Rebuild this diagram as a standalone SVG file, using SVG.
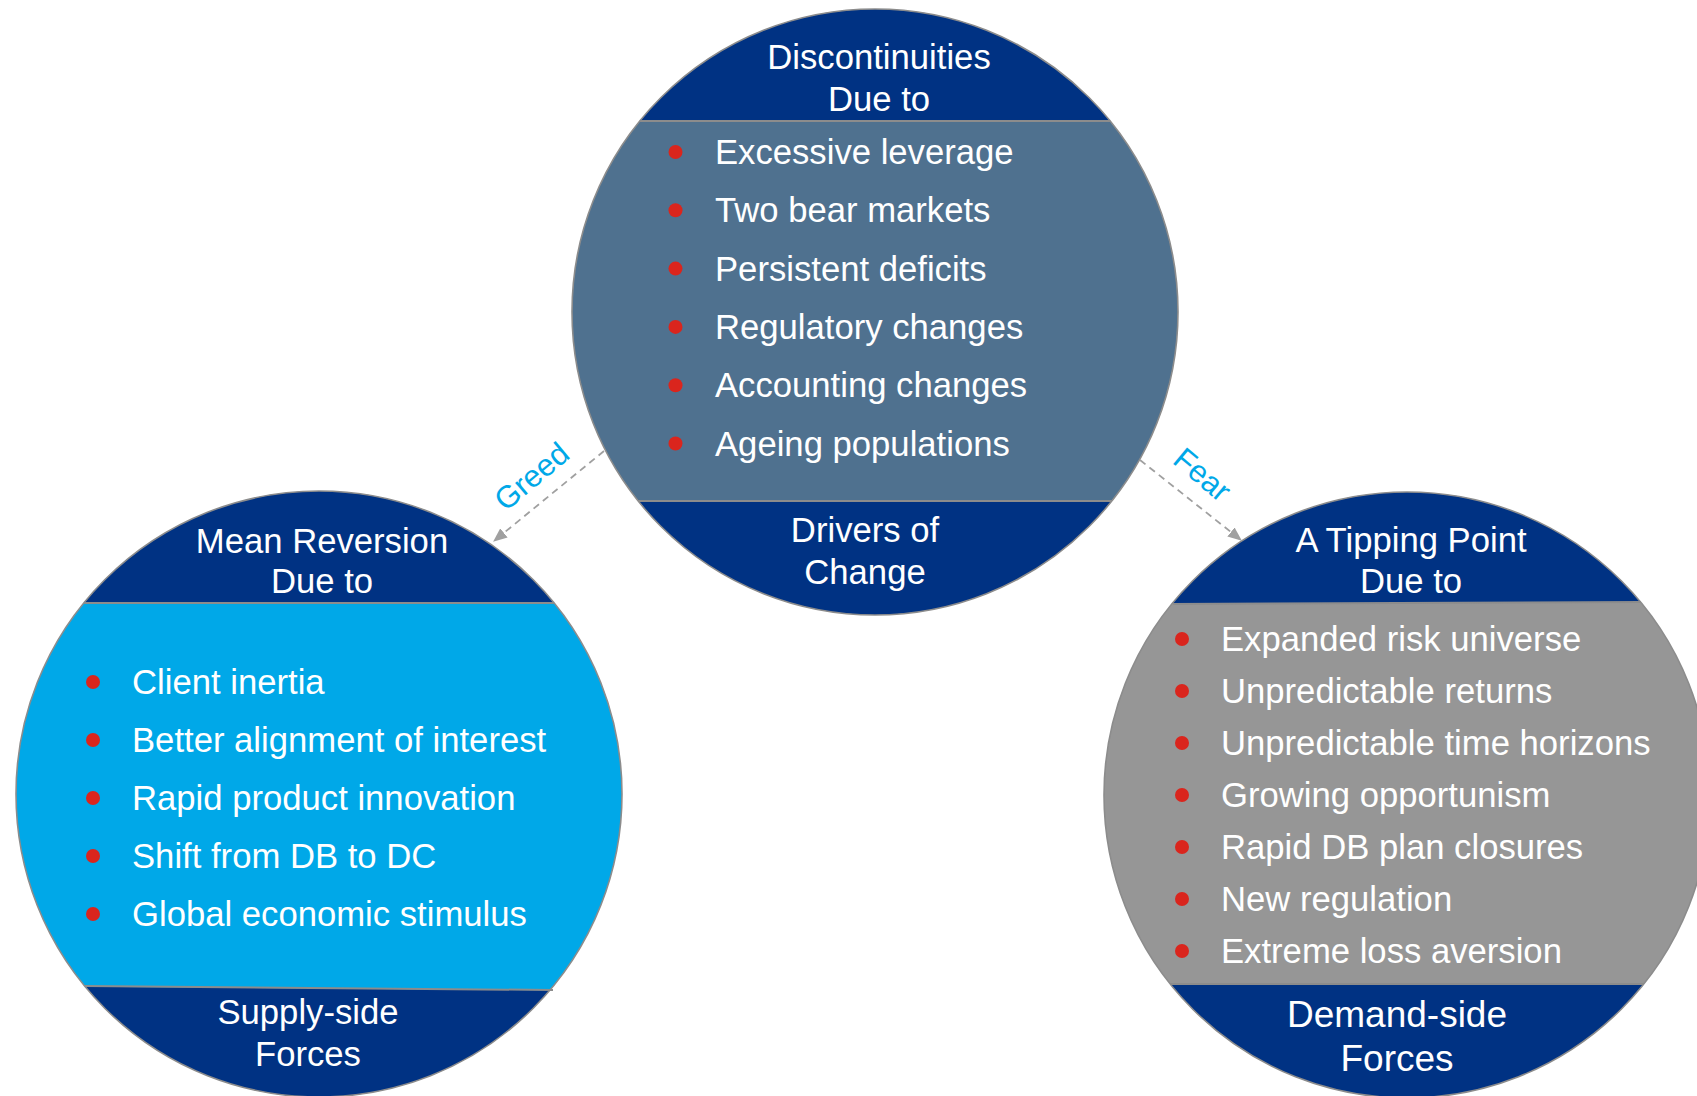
<svg xmlns="http://www.w3.org/2000/svg" width="1697" height="1096" viewBox="0 0 1697 1096">
<style>
.navy{fill:#003283}
.slate{fill:#4F718F}
.sky{fill:#00A8E8}
.grey{fill:#969696}
.ring{fill:none;stroke:#8C8C8C;stroke-width:1.6}
.div{stroke:#8C8C8C;stroke-width:2}
.h{font-family:"Liberation Sans",Arial,sans-serif;font-size:34.67px;fill:#fff;text-anchor:middle}
.hb{font-family:"Liberation Sans",Arial,sans-serif;font-size:37px;fill:#fff;text-anchor:middle}
.i{font-family:"Liberation Sans",Arial,sans-serif;font-size:34.67px;fill:#fff}
.b{fill:#DA251D}
.lbl{font-family:"Liberation Sans",Arial,sans-serif;font-size:31px;fill:#00A8E8;text-anchor:middle}
.con{fill:none;stroke:#A0A0A0;stroke-width:1.8;stroke-dasharray:7 5}
</style>
<defs>
<clipPath id="cTop"><circle cx="875" cy="312" r="303"/></clipPath>
<clipPath id="cLeft"><circle cx="319" cy="794" r="303"/></clipPath>
<clipPath id="cRight"><circle cx="1407" cy="795" r="303"/></clipPath>
<marker id="ah" viewBox="0 0 12 10" refX="11" refY="5" markerWidth="14" markerHeight="12" markerUnits="userSpaceOnUse" orient="auto">
<path d="M0,0 L12,5 L0,10 z" fill="#A0A0A0"/>
</marker>
</defs>

<g id="drivers">
<g clip-path="url(#cTop)">
<rect class="navy" x="560" y="0" width="630" height="121"/>
<rect class="slate" x="560" y="121" width="630" height="380"/>
<rect class="navy" x="560" y="501" width="630" height="130"/>
</g>
<line class="div" x1="640" y1="121" x2="1110" y2="121"/>
<line class="div" x1="638" y1="501" x2="1112" y2="501"/>
<circle class="ring" cx="875" cy="312" r="303"/>
<text class="h" x="879" y="69">Discontinuities</text>
<text class="h" x="879" y="111">Due to</text>
<circle class="b" cx="675.5" cy="152" r="7"/><text class="i" x="715" y="164">Excessive leverage</text>
<circle class="b" cx="675.5" cy="210.3" r="7"/><text class="i" x="715" y="222.3">Two bear markets</text>
<circle class="b" cx="675.5" cy="268.6" r="7"/><text class="i" x="715" y="280.6">Persistent deficits</text>
<circle class="b" cx="675.5" cy="326.9" r="7"/><text class="i" x="715" y="338.9">Regulatory changes</text>
<circle class="b" cx="675.5" cy="385.2" r="7"/><text class="i" x="715" y="397.2">Accounting changes</text>
<circle class="b" cx="675.5" cy="443.5" r="7"/><text class="i" x="715" y="455.5">Ageing populations</text>
<text class="h" x="865" y="542">Drivers of</text>
<text class="h" x="865" y="584">Change</text>
</g>

<g id="supply">
<g clip-path="url(#cLeft)">
<rect class="navy" x="0" y="480" width="640" height="123"/>
<rect class="sky" x="0" y="603" width="640" height="390"/>
<polygon class="navy" points="0,986 640,991 640,1110 0,1110"/>
</g>
<line class="div" x1="84" y1="603" x2="554" y2="603"/>
<line class="div" x1="85" y1="986" x2="553" y2="990"/>
<circle class="ring" cx="319" cy="794" r="303"/>
<text class="h" x="322" y="553">Mean Reversion</text>
<text class="h" x="322" y="593">Due to</text>
<circle class="b" cx="93" cy="682" r="7"/><text class="i" x="132" y="694">Client inertia</text>
<circle class="b" cx="93" cy="740" r="7"/><text class="i" x="132" y="752">Better alignment of interest</text>
<circle class="b" cx="93" cy="798" r="7"/><text class="i" x="132" y="810">Rapid product innovation</text>
<circle class="b" cx="93" cy="856" r="7"/><text class="i" x="132" y="868">Shift from DB to DC</text>
<circle class="b" cx="93" cy="914" r="7"/><text class="i" x="132" y="926">Global economic stimulus</text>
<text class="h" x="308" y="1024">Supply-side</text>
<text class="h" x="308" y="1066">Forces</text>
</g>

<g id="demand">
<g clip-path="url(#cRight)">
<polygon class="navy" points="1090,480 1720,480 1720,602 1090,604"/>
<polygon class="grey" points="1090,604 1720,602 1720,984 1090,984"/>
<rect class="navy" x="1090" y="984" width="630" height="130"/>
</g>
<line class="div" x1="1173" y1="604" x2="1641" y2="602"/>
<line class="div" x1="1170" y1="984" x2="1644" y2="984"/>
<circle class="ring" cx="1407" cy="795" r="303"/>
<text class="h" x="1411" y="552">A Tipping Point</text>
<text class="h" x="1411" y="593">Due to</text>
<circle class="b" cx="1182" cy="639" r="7"/><text class="i" x="1221" y="651">Expanded risk universe</text>
<circle class="b" cx="1182" cy="691" r="7"/><text class="i" x="1221" y="703">Unpredictable returns</text>
<circle class="b" cx="1182" cy="743" r="7"/><text class="i" x="1221" y="755">Unpredictable time horizons</text>
<circle class="b" cx="1182" cy="795" r="7"/><text class="i" x="1221" y="807">Growing opportunism</text>
<circle class="b" cx="1182" cy="847" r="7"/><text class="i" x="1221" y="859">Rapid DB plan closures</text>
<circle class="b" cx="1182" cy="899" r="7"/><text class="i" x="1221" y="911">New regulation</text>
<circle class="b" cx="1182" cy="951" r="7"/><text class="i" x="1221" y="963">Extreme loss aversion</text>
<text class="hb" x="1397" y="1027">Demand-side</text>
<text class="hb" x="1397" y="1071">Forces</text>
</g>

<g id="connectors">
<line class="con" x1="604" y1="451" x2="494" y2="541" marker-end="url(#ah)"/>
<text class="lbl" transform="translate(532,477) rotate(-40)" x="0" y="10">Greed</text>
<line class="con" x1="1140" y1="460" x2="1241" y2="540" marker-end="url(#ah)"/>
<text class="lbl" transform="translate(1202,475) rotate(40)" x="0" y="10">Fear</text>
</g>
</svg>
